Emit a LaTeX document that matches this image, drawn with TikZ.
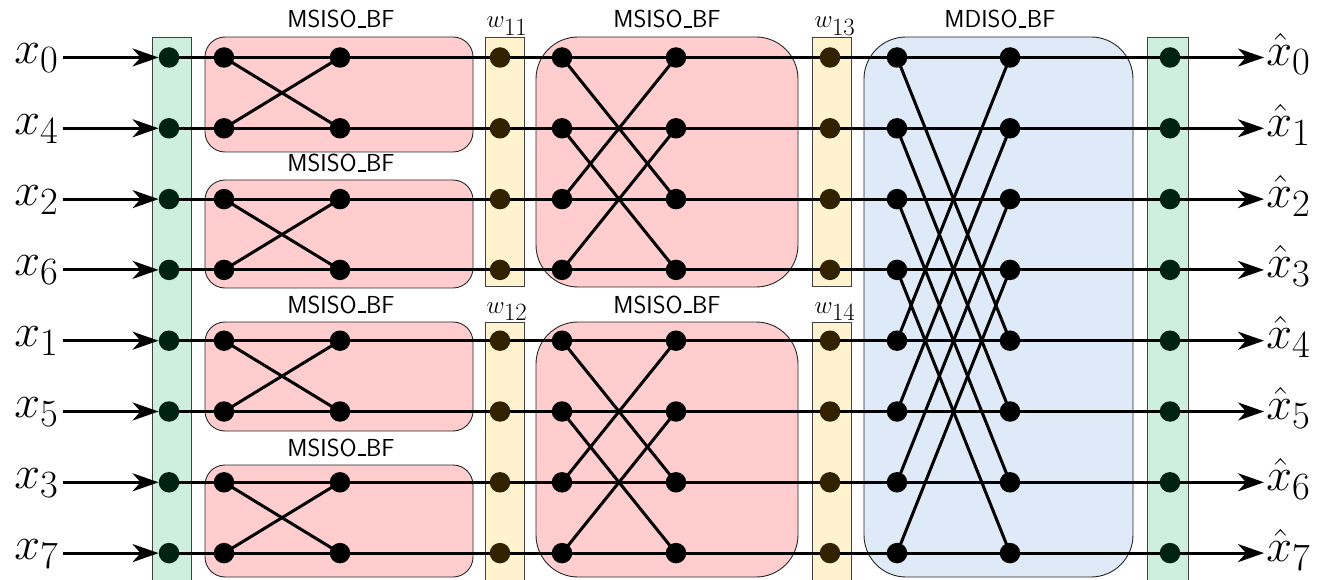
\documentclass[tikz,border=0pt]{standalone}
\usetikzlibrary{arrows.meta}
\definecolor{bandgreen}{RGB}{206,239,221}
\definecolor{bandyellow}{RGB}{255,242,206}
\definecolor{boxpink}{RGB}{255,205,205}
\definecolor{boxblue}{RGB}{222,234,247}
\definecolor{dotgreen}{RGB}{0,34,17}
\definecolor{dotbrown}{RGB}{51,34,0}
\newcommand{\usc}{\kern.06em\rule{.3em}{.075em}\kern.02em}
\pgfdeclarelayer{boxes}
\pgfdeclarelayer{wires}
\pgfsetlayers{boxes,wires,main}
\begin{document}
\begin{tikzpicture}[x=1pt,y=-1pt,
  dot/.style={circle,fill=black,inner sep=0pt,minimum size=20.5pt},
  gdot/.style={dot,fill=dotgreen},
  ydot/.style={dot,fill=dotbrown},
  wire/.style={line width=3pt},
  arr/.style={line width=3pt,-{Stealth[length=26pt,width=18pt,inset=8pt]}},
  band/.style={draw=black!75,line width=0.9pt},
  sbox/.style={draw=black!85,line width=0.9pt,rounded corners=20pt},
  bbox/.style={draw=black!85,line width=0.9pt,rounded corners=42pt},
  blbl/.style={font=\fontsize{24.6}{29}\selectfont\sffamily,inner sep=0pt,anchor=base},
  wlbl/.style={font=\Huge,inner sep=0pt,anchor=base},
  xlbl/.style={font=\Huge,inner sep=0pt,scale=1.86}]
\useasboundingbox (0,0) rectangle (1318,580);

\begin{pgfonlayer}{boxes}
  % bands
  \fill[bandgreen] (152,37) rectangle (191,590);
  \draw[band] (152,590) -- (152,37) -- (191,37) -- (191,590);
  \fill[bandgreen] (1147,37) rectangle (1188,590);
  \draw[band] (1147,590) -- (1147,37) -- (1188,37) -- (1188,590);
  \draw[band,fill=bandyellow] (485,37) rectangle (524,286);
  \fill[bandyellow] (485,322) rectangle (524,590);
  \draw[band] (485,590) -- (485,322) -- (524,322) -- (524,590);
  \draw[band,fill=bandyellow] (812,37) rectangle (851,286);
  \fill[bandyellow] (812,322) rectangle (851,590);
  \draw[band] (812,590) -- (812,322) -- (851,322) -- (851,590);
  % stage-1 boxes
  \draw[sbox,fill=boxpink] (205,37) rectangle (473,152);
  \draw[sbox,fill=boxpink] (205,180) rectangle (473,288);
  \draw[sbox,fill=boxpink] (205,322) rectangle (473,431);
  \draw[sbox,fill=boxpink] (205,465) rectangle (473,577);
  % stage-2 boxes
  \draw[bbox,fill=boxpink] (536,37) rectangle (798,287);
  \draw[bbox,fill=boxpink] (536,322) rectangle (798,577);
  % stage-3 box
  \draw[bbox,fill=boxblue] (864,37) rectangle (1133,577);
\end{pgfonlayer}

% labels above boxes
\node[blbl] (l1) at (341,28) {MSISO\usc BF};
\node[blbl] (l2) at (341,172) {MSISO\usc BF};
\node[blbl] (l3) at (341,313) {MSISO\usc BF};
\node[blbl] (l4) at (341,456) {MSISO\usc BF};
\node[blbl] (l5) at (667,28) {MSISO\usc BF};
\node[blbl] (l6) at (667,313) {MSISO\usc BF};
\node[blbl] (l7) at (1000,28) {MDISO\usc BF};
\node[wlbl] (w11) at (507,28) {$w_{\textstyle 11}$};
\node[wlbl] (w12) at (507,313) {$w_{\textstyle 12}$};
\node[wlbl] (w13) at (835,28) {$w_{\textstyle 13}$};
\node[wlbl] (w14) at (835,313) {$w_{\textstyle 14}$};

% dots and io labels
\foreach \i/\lab in {0/0,1/4,2/2,3/6,4/1,5/5,6/3,7/7}{
  \pgfmathsetmacro\yy{57.5+70.8*\i}
  \node[gdot] (g1-\i) at (169,\yy) {};
  \node[dot]  (a-\i)  at (224,\yy) {};
  \node[dot]  (b-\i)  at (340,\yy) {};
  \node[ydot] (y1-\i) at (500,\yy) {};
  \node[dot]  (c-\i)  at (562,\yy) {};
  \node[dot]  (d-\i)  at (676,\yy) {};
  \node[ydot] (y2-\i) at (830,\yy) {};
  \node[dot]  (e-\i)  at (897,\yy) {};
  \node[dot]  (f-\i)  at (1010,\yy) {};
  \node[gdot] (g2-\i) at (1170,\yy) {};
  \node[xlbl,anchor=base east] (in-\i) at (59,\yy+6) {$x_{\lab}$};
  \node[xlbl,anchor=base west] (out-\i) at (1266,\yy+8) {$\hat{x}_{\i}$};
  \node[inner sep=0pt] (ie-\i) at (63,\yy) {};
  \node[inner sep=0pt] (oe-\i) at (1264,\yy) {};
}

\begin{pgfonlayer}{wires}
  \foreach \i in {0,...,7}{
    \draw[wire] (g1-\i.center) -- (g2-\i.center);
    \draw[arr] (ie-\i.center) -- (g1-\i.west);
    \draw[arr] (g2-\i.center) -- (oe-\i.center);
  }
  \foreach \i/\j in {0/1,2/3,4/5,6/7}{
    \draw[wire] (a-\i.center) -- (b-\j.center);
    \draw[wire] (a-\j.center) -- (b-\i.center);
  }
  \foreach \i/\j in {0/2,1/3,4/6,5/7}{
    \draw[wire] (c-\i.center) -- (d-\j.center);
    \draw[wire] (c-\j.center) -- (d-\i.center);
  }
  \foreach \i/\j in {0/4,1/5,2/6,3/7}{
    \draw[wire] (e-\i.center) -- (f-\j.center);
    \draw[wire] (e-\j.center) -- (f-\i.center);
  }
\end{pgfonlayer}
\end{tikzpicture}
\end{document}
